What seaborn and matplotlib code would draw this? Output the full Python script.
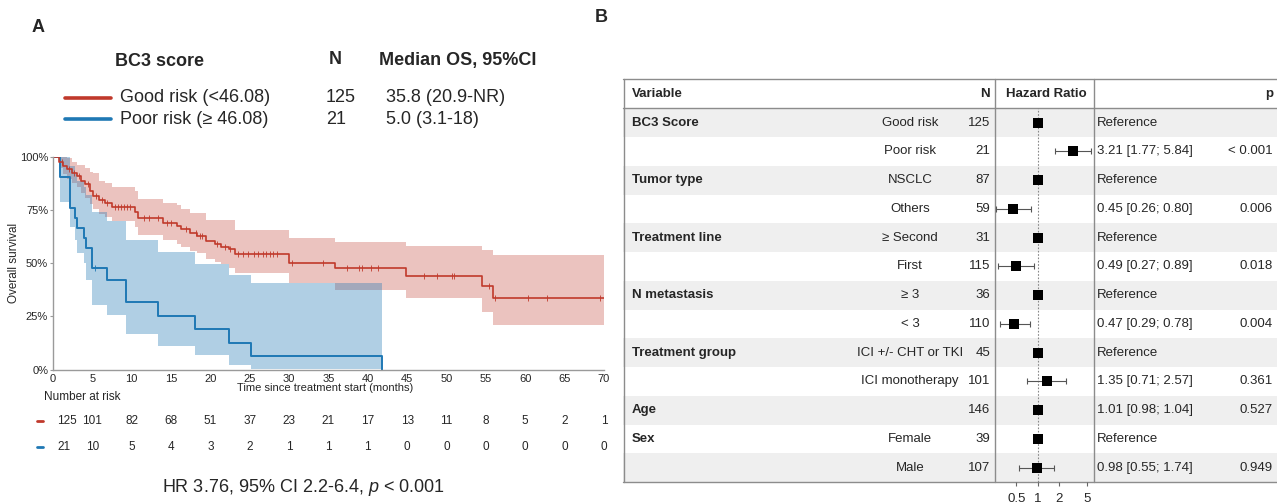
import numpy as np
import pandas as pd
import matplotlib
matplotlib.use("Agg")
import matplotlib.pyplot as plt
import matplotlib.transforms as mtransforms
from matplotlib.lines import Line2D
from matplotlib.ticker import PercentFormatter, NullLocator
import seaborn as sns

W, H = 1277, 504

##########################
# panel A : KM estimates #
##########################
# survival in % (steps-post)
good_time = [0, 0.7, 1.3, 1.8, 2.4, 3.0, 3.6, 4.1, 4.7, 5.1, 5.8, 6.6, 7.5, 10.4, 10.8, 14.0, 15.7,
             16.3, 17.4, 18.3, 19.5, 20.6, 21.4, 22.3, 23.1, 30.0, 35.8, 44.9, 54.5, 55.9, 70]
good_surv = [100, 97.6, 96.0, 94.4, 92.8, 91.2, 88.8, 87.2, 84.0, 81.6, 80.0, 78.4, 76.8, 74.4, 71.2,
             69.2, 67.6, 66.0, 64.4, 63.0, 60.5, 59.0, 57.8, 56.7, 54.5, 50.3, 47.6, 44.0, 39.3, 33.5, 33.5]
good_upper = [100, 100, 100, 99.5, 98.0, 96.4, 96.4, 95.0, 93.0, 92.5, 89.0, 87.7, 86.0, 84.0, 80.5,
              78.5, 77.5, 75.5, 73.6, 73.6, 70.4, 70.4, 70.4, 70.4, 65.7, 62.1, 60.2, 58.2, 56.3, 53.9, 53.9]
good_lower = [100, 95.0, 92.0, 90.0, 88.0, 86.0, 83.0, 81.0, 78.0, 75.5, 73.5, 72.0, 70.0, 67.0, 63.5,
              61.0, 59.0, 57.5, 56.0, 55.0, 52.0, 50.5, 49.5, 48.0, 45.3, 40.6, 37.7, 33.5, 27.2, 21.2, 21.2]
good_cens = [1.1, 2.0, 2.7, 3.3, 4.4, 5.4, 6.2, 6.9, 7.9, 8.3, 8.7, 9.0, 9.4, 9.8, 11.6, 12.2, 13.3,
             14.5, 15.0, 16.9, 18.2, 18.7, 18.9, 20.8, 21.8, 22.5, 23.5, 24.2, 24.8, 25.5, 26.1, 26.7,
             27.1, 27.6, 28.0, 28.5, 30.4, 34.3, 37.3, 38.9, 39.2, 40.4, 41.3, 47.1, 48.8, 50.7, 50.9,
             55.4, 56.2, 60.4, 62.7, 69.5]

poor_time = [0, 0.9, 2.2, 2.8, 3.1, 3.9, 4.2, 5.0, 6.9, 9.3, 13.4, 18.1, 22.3, 25.2, 41.8]
poor_surv = [100, 90.5, 76.2, 71.4, 66.7, 61.9, 57.1, 47.6, 42.3, 31.7, 25.4, 19.0, 12.7, 6.3, 0]
poor_upper = [100, 100, 96, 92, 89, 86, 82, 74, 70, 61, 55.5, 49.7, 44.5, 40.9, 40.9]
poor_lower = [100, 79, 67, 61, 55, 50, 42, 30.3, 25.6, 16.5, 11.2, 6.8, 2.0, 0, 0]
poor_cens = [5.3]

risk_times = [0, 5, 10, 15, 20, 25, 30, 35, 40, 45, 50, 55, 60, 65, 70]
risk_good = [125, 101, 82, 68, 51, 37, 23, 21, 17, 13, 11, 8, 5, 2, 1]
risk_poor = [21, 10, 5, 4, 3, 2, 1, 1, 1, 0, 0, 0, 0, 0, 0]

##############################
# panel B : cox model output #
##############################
var_names = ["BC3 Score", "", "Tumor type", "", "Treatment line", "", "N metastasis", "",
             "Treatment group", "", "Age", "Sex", ""]
levels = ["Good risk", "Poor risk", "NSCLC", "Others", "\u2265 Second", "First", "\u2265 3", "< 3",
          "ICI +/- CHT or TKI", "ICI monotherapy", "", "Female", "Male"]
n_pat = [125, 21, 87, 59, 31, 115, 36, 110, 45, 101, 146, 39, 107]
hr = [1, 3.21, 1, 0.45, 1, 0.49, 1, 0.47, 1, 1.35, 1.01, 1, 0.98]
hr_lo = [np.nan, 1.77, np.nan, 0.26, np.nan, 0.27, np.nan, 0.29, np.nan, 0.71, 0.98, np.nan, 0.55]
hr_hi = [np.nan, 5.84, np.nan, 0.80, np.nan, 0.89, np.nan, 0.78, np.nan, 2.57, 1.04, np.nan, 1.74]
pvals = ["", "< 0.001", "", "0.006", "", "0.018", "", "0.004", "", "0.361", "0.527", "", "0.949"]

############
# styling  #
############
sns.set_theme(style="white")
plt.rcParams["font.family"] = ["Liberation Sans", "DejaVu Sans"]
plt.rcParams["mathtext.fontset"] = "custom"
plt.rcParams["mathtext.rm"] = "Liberation Sans"
plt.rcParams["mathtext.it"] = "Liberation Sans:italic"

RED = "#C0392B"
BLUE = "#1F78B4"
GREY = "#9a9a9a"


def fx(x):
    return x / W


def fy(y):
    return 1 - y / H


fig = plt.figure(figsize=(W / 100, H / 100), dpi=100)

# ---- KM axes ----
ax = fig.add_axes([fx(53), fy(369.5), fx(604) - fx(53), fy(157.3) - fy(369.5)])

good = pd.DataFrame({"time": good_time, "surv": np.array(good_surv) / 100,
                     "lo": np.array(good_lower) / 100, "hi": np.array(good_upper) / 100})
poor = pd.DataFrame({"time": poor_time, "surv": np.array(poor_surv) / 100,
                     "lo": np.array(poor_lower) / 100, "hi": np.array(poor_upper) / 100})

ax.fill_between(good["time"], good["lo"], good["hi"], step="post", color=RED, alpha=0.3, lw=0)
ax.fill_between(poor["time"], poor["lo"], poor["hi"], step="post", color=BLUE, alpha=0.35, lw=0)
sns.lineplot(data=poor, x="time", y="surv", drawstyle="steps-post", color=BLUE, lw=1.4,
             estimator=None, sort=False, ax=ax)
sns.lineplot(data=good, x="time", y="surv", drawstyle="steps-post", color=RED, lw=1.2,
             estimator=None, sort=False, ax=ax)

# censoring ticks
for df, cens, col in [(good, good_cens, RED), (poor, poor_cens, BLUE)]:
    idx = np.searchsorted(df["time"].values, cens, side="right") - 1
    ax.plot(cens, df["surv"].values[idx], ls="", marker="|", ms=4, mew=0.6, color=col)

ax.set_xlim(0, 70)
ax.set_ylim(0, 1)
ax.set_xticks(risk_times)
ax.set_yticks([0, 0.25, 0.5, 0.75, 1])
ax.yaxis.set_major_formatter(PercentFormatter(1.0, decimals=0))
ax.set_xlabel("")
ax.set_ylabel("")
for s in ["top", "right"]:
    ax.spines[s].set_visible(False)
for s in ["left", "bottom"]:
    ax.spines[s].set_color(GREY)
    ax.spines[s].set_linewidth(1)
ax.tick_params(axis="y", labelsize=8, length=2.5, width=0.8, color=GREY, pad=1, left=True)
ax.tick_params(axis="x", labelsize=8, length=0, pad=3, bottom=True)

fig.text(fx(14), fy(263), "Overall survival", rotation=90, ha="center", va="center", fontsize=8.5)
fig.text(fx(325), fy(388), "Time since treatment start (months)", ha="center", va="center", fontsize=8)

# ---- number at risk ----
trans = mtransforms.blended_transform_factory(ax.transData, fig.transFigure)
fig.text(fx(44), fy(397), "Number at risk", ha="left", va="center", fontsize=8.5)
for ypix, vals, col in [(421, risk_good, RED), (447, risk_poor, BLUE)]:
    fig.add_artist(Line2D([fx(37), fx(43)], [fy(ypix)] * 2, color=col, lw=2))
    for t, v in zip(risk_times, vals):
        if t == 0:
            tr = mtransforms.offset_copy(trans, fig=fig, x=4, units="dots")
            fig.text(t, fy(ypix), str(v), transform=tr, ha="left", va="center", fontsize=8.5)
        else:
            fig.text(t, fy(ypix), str(v), transform=trans, ha="center", va="center", fontsize=8.5)

fig.text(fx(303), fy(488), r"HR 3.76, 95% CI 2.2-6.4, $p$ < 0.001", ha="center", va="center",
         fontsize=13)

# ---- legend block ----
fig.text(fx(38), fy(27), "A", fontsize=13, fontweight="bold", ha="center", va="center")
fig.text(fx(601), fy(18), "B", fontsize=13, fontweight="bold", ha="center", va="center")
fig.text(fx(115), fy(61), "BC3 score", fontsize=13, fontweight="bold", va="center")
fig.text(fx(335), fy(60), "N", fontsize=13, fontweight="bold", ha="center", va="center")
fig.text(fx(379), fy(60), "Median OS, 95%CI", fontsize=13, fontweight="bold", va="center")
legend_rows = [(98, RED, "Good risk (<46.08)", "125", "35.8 (20.9-NR)"),
               (119, BLUE, "Poor risk (\u2265 46.08)", "21", "5.0 (3.1-18)")]
for ypix, col, lab, n, med in legend_rows:
    fig.add_artist(Line2D([fx(65), fx(111)], [fy(ypix)] * 2, color=col, lw=2.6))
    fig.text(fx(120), fy(ypix), lab, fontsize=13, va="center")
    fig.text(fx(326), fy(ypix), n, fontsize=13, va="center")
    fig.text(fx(386), fy(ypix), med, fontsize=13, va="center")

#######################
# panel B : the table #
#######################
TOP, HEAD, BOT = 79, 108.3, 482
nrow = len(levels)
rh = (BOT - HEAD) / nrow

tab = fig.add_axes([fx(623), fy(BOT), 1 - fx(623), fy(TOP) - fy(BOT)])
tab.set_xlim(623, W)
tab.set_ylim(BOT, TOP)
tab.axis("off")

for i in range(0, nrow, 2):
    tab.axhspan(HEAD + i * rh, HEAD + (i + 1) * rh, color="#EFEFEF", lw=0, zorder=0)

line_kw = dict(color="#8c8c8c", lw=1, clip_on=False, zorder=2)
for yl in [TOP, HEAD, BOT]:
    tab.plot([623, W], [yl, yl], **line_kw)
for xl in [623.5, 995, 1094]:
    tab.plot([xl, xl], [TOP, BOT], **line_kw)

FS = 9.5
hy = (TOP + HEAD) / 2
tab.text(632, hy, "Variable", fontsize=FS, fontweight="bold", va="center")
tab.text(990, hy, "N", fontsize=FS, fontweight="bold", va="center", ha="right")
tab.text(1046, hy, "Hazard Ratio", fontsize=FS, fontweight="bold", va="center", ha="center")
tab.text(1273, hy, "p", fontsize=FS, fontweight="bold", va="center", ha="right")

for i in range(nrow):
    yc = HEAD + (i + 0.5) * rh
    tab.text(632, yc, var_names[i], fontsize=FS, fontweight="bold", va="center")
    tab.text(910, yc, levels[i], fontsize=FS, va="center", ha="center")
    tab.text(990, yc, str(n_pat[i]), fontsize=FS, va="center", ha="right")
    if np.isnan(hr_lo[i]):
        est = "Reference"
    else:
        est = f"{hr[i]:.2f} [{hr_lo[i]:.2f}; {hr_hi[i]:.2f}]"
    tab.text(1097, yc, est, fontsize=FS, va="center", ha="left")
    tab.text(1273, yc, pvals[i], fontsize=FS, va="center", ha="right")

# ---- forest column ----
hr_ax = fig.add_axes([fx(995), fy(BOT), fx(1094) - fx(995), fy(HEAD) - fy(BOT)])
hr_ax.set_facecolor("none")
ypos = np.arange(nrow) + 0.5
hr_arr = np.array(hr)
lo_arr = np.array(hr_lo)
hi_arr = np.array(hr_hi)
has_ci = ~np.isnan(lo_arr)

hr_ax.axvline(1, color="#888888", lw=0.8, ls=(0, (1.5, 1.5)), zorder=1)
hr_ax.errorbar(hr_arr[has_ci], ypos[has_ci],
               xerr=[hr_arr[has_ci] - lo_arr[has_ci], hi_arr[has_ci] - hr_arr[has_ci]],
               fmt="none", ecolor="#555555", elinewidth=0.8, capsize=2, capthick=0.8, zorder=2)
sns.scatterplot(x=hr_arr, y=ypos, marker="s", s=44, color="black", linewidth=0,
                ax=hr_ax, zorder=3, legend=False)

hr_ax.set_xscale("log")
hr_ax.set_xlim(0.2485, 6.365)
hr_ax.set_ylim(nrow, 0)
hr_ax.set_xticks([0.5, 1, 2, 5])
hr_ax.set_xticklabels(["0.5", "1", "2", "5"])
hr_ax.xaxis.set_minor_locator(NullLocator())
hr_ax.set_yticks([])
hr_ax.set_xlabel("")
hr_ax.set_ylabel("")
for s in hr_ax.spines.values():
    s.set_visible(False)
hr_ax.tick_params(axis="x", bottom=True, length=3, width=0.8, color="#666666", labelsize=FS,
                  pad=5, direction="out")

fig.savefig("out.png", dpi=100)
